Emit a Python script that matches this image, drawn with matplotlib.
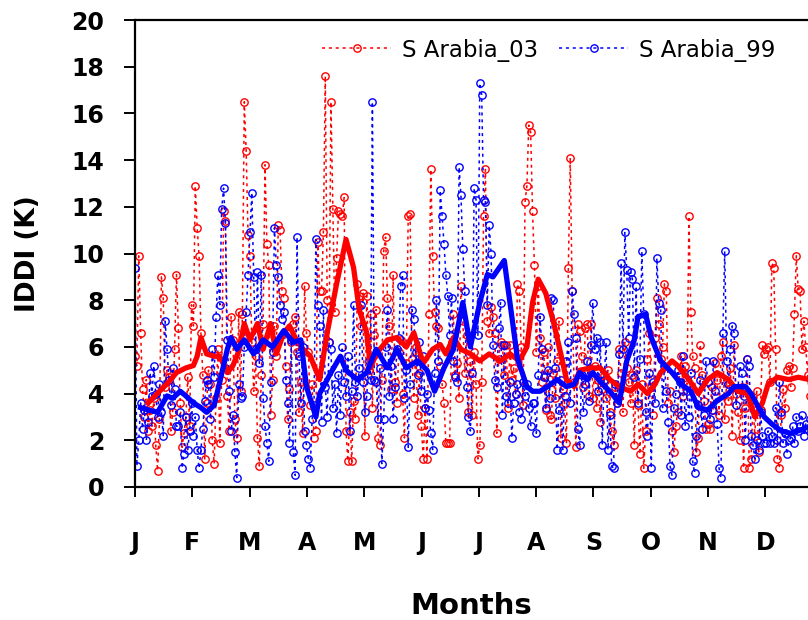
import numpy as np
import matplotlib
matplotlib.use("Agg")
import matplotlib.pyplot as plt

# Daily IDDI values (K), one row per month, Jan..Dec
iddi_03 = [
    5.6, 5.2, 9.9, 6.6, 4.2, 3.0, 4.6, 2.4, 3.3, 2.6, 3.8, 1.8, 0.7, 2.9, 9.0, 8.1, 4.3, 5.0, 4.7, 2.4, 3.2, 5.9, 9.1, 6.8, 3.6, 1.7, 2.3, 3.0, 4.7, 2.6, 7.8,
    6.9, 12.9, 11.1, 9.9, 6.6, 4.8, 1.2, 3.6, 5.0, 4.4, 2.0, 1.0, 3.8, 5.9, 1.9, 4.6, 11.8, 11.4, 3.9, 2.4, 7.3, 6.3, 2.9, 2.1, 7.5, 4.1, 7.4, 16.5,
    14.4, 10.8, 9.9, 6.2, 4.1, 5.6, 2.1, 0.9, 4.8, 7.0, 13.8, 10.4, 9.5, 3.1, 4.6, 6.9, 5.6, 11.2, 11.0, 8.4, 8.1, 5.2, 2.9, 4.2, 6.2, 7.0, 7.3, 5.8, 3.2, 4.5, 2.3,
    8.6, 6.6, 5.8, 3.5, 4.4, 2.1, 2.4, 10.5, 8.4, 8.4, 10.9, 17.6, 8.0, 6.2, 16.5, 11.9, 7.5, 9.8, 11.8, 11.7, 11.6, 12.4, 2.4, 1.1, 3.2, 1.1, 3.7, 2.9, 8.7, 8.2,
    6.9, 8.3, 2.2, 8.2, 5.0, 7.4, 3.4, 6.5, 7.6, 2.1, 1.8, 4.6, 10.1, 10.7, 8.1, 6.9, 4.2, 9.1, 4.5, 3.6, 5.8, 6.3, 4.0, 2.1, 5.3, 11.6, 11.7, 5.5, 3.8, 6.0, 3.1,
    4.9, 2.6, 1.2, 3.4, 1.2, 7.4, 13.6, 9.9, 7.5, 6.9, 6.8, 5.2, 4.4, 3.6, 1.9, 1.9, 1.9, 6.2, 7.4, 4.8, 5.3, 3.8, 8.6, 7.1, 4.9, 6.5, 3.2, 5.4, 3.1, 5.8,
    4.4, 1.2, 1.8, 4.5, 11.6, 13.6, 7.1, 6.6, 7.7, 7.3, 6.6, 2.3, 5.5, 6.2, 6.1, 4.8, 6.1, 3.4, 6.1, 4.6, 5.1, 4.0, 8.7, 8.4, 6.0, 3.5, 12.2, 12.9, 15.5, 15.2, 11.8,
    9.5, 5.8, 8.6, 6.4, 4.5, 5.8, 3.3, 6.0, 3.1, 2.9, 4.9, 3.8, 5.4, 7.1, 2.1, 4.2, 3.6, 1.9, 9.4, 14.1, 8.4, 4.5, 1.7, 7.0, 6.7, 5.6, 4.3, 6.8, 7.0, 3.9, 7.0,
    3.8, 5.2, 3.4, 4.6, 2.8, 4.2, 4.8, 3.8, 5.0, 3.2, 2.4, 1.8, 4.3, 3.6, 5.9, 4.9, 3.2, 6.2, 5.1, 4.5, 3.6, 4.8, 1.8, 5.0, 3.5, 1.4, 4.4, 0.8, 2.4, 5.5,
    6.6, 4.3, 3.1, 6.4, 8.1, 7.0, 5.5, 6.0, 8.7, 8.4, 3.6, 4.1, 2.4, 1.5, 2.6, 3.2, 4.8, 5.6, 3.9, 5.2, 4.4, 11.6, 7.5, 5.6, 5.1, 1.5, 2.1, 6.1, 4.8, 3.7, 2.5,
    2.7, 2.5, 4.3, 3.3, 5.3, 4.6, 3.1, 5.6, 6.2, 2.9, 4.5, 3.7, 5.1, 2.2, 6.1, 4.0, 3.2, 2.0, 4.3, 0.8, 3.4, 5.5, 0.8, 1.2, 3.6, 2.2, 4.1, 1.5, 3.3, 6.1,
    5.7, 5.9, 6.0, 4.5, 9.6, 9.4, 5.9, 1.2, 0.8, 3.1, 4.2, 3.4, 5.0, 5.2, 4.3, 5.1, 7.4, 9.9, 8.5, 8.4, 5.9, 7.1, 6.0, 4.8, 3.9, 5.3, 4.6, 4.1, 5.0, 4.4, 4.7,
]

iddi_99 = [
    9.4, 0.9, 2.0, 3.6, 2.5, 3.3, 2.0, 2.8, 4.9, 3.9, 5.2, 4.0, 3.0, 4.4, 3.2, 2.2, 7.1, 5.9, 4.6, 3.5, 5.1, 4.2, 2.6, 2.6, 3.2, 0.8, 1.4, 3.0, 1.6, 2.4, 3.6,
    2.2, 3.0, 1.6, 0.8, 1.6, 2.5, 3.7, 4.6, 4.4, 2.9, 5.9, 4.7, 7.3, 9.1, 7.8, 11.9, 12.8, 11.3, 6.3, 4.1, 2.4, 3.1, 1.5, 0.4, 4.4, 3.8, 3.9, 6.0,
    7.5, 9.1, 10.9, 12.6, 9.0, 5.9, 9.2, 5.3, 9.1, 3.8, 2.6, 1.9, 1.1, 4.5, 5.8, 11.1, 9.5, 9.0, 7.8, 7.2, 7.5, 4.6, 3.6, 1.9, 6.3, 1.5, 0.5, 10.7, 5.6, 3.6, 6.0,
    2.4, 1.8, 1.2, 0.8, 2.9, 3.5, 10.6, 7.8, 6.9, 2.8, 7.6, 4.3, 3.0, 6.2, 5.9, 3.4, 4.4, 2.3, 4.8, 3.1, 6.0, 4.5, 3.9, 5.6, 2.4, 4.1, 7.8, 4.5, 3.9, 5.1,
    7.8, 4.5, 3.2, 3.9, 5.4, 4.6, 16.5, 4.6, 4.5, 2.9, 5.1, 1.0, 2.9, 6.0, 7.6, 3.9, 5.2, 2.9, 4.3, 5.9, 6.4, 8.6, 9.1, 3.8, 5.0, 1.7, 4.4, 7.6, 7.2, 5.8, 4.8,
    6.2, 4.1, 5.6, 3.4, 4.0, 3.3, 2.3, 1.6, 4.9, 8.0, 5.4, 12.7, 11.6, 10.4, 9.1, 8.2, 6.5, 8.1, 5.4, 4.7, 4.5, 13.7, 12.5, 10.2, 8.4, 4.3, 3.0, 2.4, 4.9, 12.8,
    12.3, 6.5, 17.3, 16.8, 12.3, 12.2, 7.8, 11.2, 10.0, 6.1, 4.6, 4.3, 6.8, 7.9, 3.1, 6.1, 3.9, 3.6, 4.5, 2.1, 3.6, 4.0, 4.4, 3.2, 2.9, 4.5, 3.9, 4.4, 3.4, 2.6, 3.6,
    3.6, 2.3, 4.8, 7.3, 5.9, 4.7, 3.4, 5.0, 3.8, 8.1, 8.0, 5.1, 1.6, 3.3, 4.6, 1.6, 3.9, 5.4, 6.2, 3.6, 8.4, 7.4, 6.4, 2.5, 1.8, 4.8, 3.2, 4.4, 5.4, 3.7, 6.1,
    7.9, 5.9, 6.4, 4.1, 6.2, 1.8, 4.6, 6.2, 1.6, 3.1, 0.9, 0.8, 4.4, 3.6, 5.7, 9.6, 5.9, 10.9, 9.3, 6.4, 9.2, 8.9, 4.7, 8.6, 3.6, 5.5, 10.1, 7.4, 3.2, 2.2,
    4.9, 0.8, 4.5, 3.6, 9.8, 7.9, 7.6, 3.4, 5.2, 4.1, 2.8, 0.9, 0.5, 3.4, 4.0, 5.0, 4.5, 3.1, 5.6, 2.6, 4.1, 3.0, 4.9, 1.1, 0.6, 2.2, 3.5, 4.6, 2.5, 3.1, 5.4,
    4.5, 2.9, 3.3, 5.4, 4.1, 2.7, 0.8, 0.4, 6.6, 10.1, 5.4, 4.4, 5.9, 6.9, 6.6, 3.5, 4.2, 5.2, 4.9, 3.9, 2.0, 5.5, 5.2, 2.2, 1.8, 1.2, 2.0, 1.6, 3.2, 2.2,
    1.9, 1.9, 2.4, 1.9, 2.2, 1.9, 3.4, 2.0, 4.5, 3.2, 1.9, 2.3, 1.4, 2.0, 2.1, 2.6, 1.9, 3.0, 2.4, 2.6, 3.1, 2.2, 2.7, 2.5, 2.9, 2.4, 2.6, 2.2, 2.8, 2.5, 2.4,
]

# Running-mean curves (day of year, value)
smooth_03_day = [7, 13, 18, 22, 27, 31, 33, 35, 38, 42, 45, 49, 52, 55, 58, 61, 65, 68, 72, 75,
                 79, 82, 85, 88, 93, 98, 102, 107, 112, 116, 119, 123, 125, 128, 134, 139, 144, 148, 153, 158,
                 162, 165, 169, 173, 178, 183, 188, 194, 199, 204, 208, 211, 214, 218, 222, 226, 229, 233, 236, 242,
                 247, 252, 257, 263, 267, 272, 276, 279, 285, 288, 294, 299, 304, 309, 315, 320, 325, 329, 333, 336,
                 341, 347, 352, 358]
smooth_03_val = [3.6, 4.1, 4.5, 4.9, 5.1, 5.2, 5.6, 6.4, 5.7, 5.6, 5.6, 4.9, 5.2, 5.8, 7.0, 6.3, 7.0, 5.9, 7.0, 5.7,
                 6.6, 6.9, 6.4, 6.0, 5.6, 4.6, 6.6, 8.7, 10.6, 9.4, 7.6, 6.6, 5.1, 5.7, 6.3, 6.4, 6.0, 6.6, 5.3, 5.9,
                 6.1, 5.7, 6.4, 5.9, 5.7, 5.4, 5.7, 5.4, 5.7, 5.4, 6.0, 7.9, 8.9, 8.3, 7.1, 5.7, 4.6, 4.3, 5.0, 5.1,
                 5.1, 4.6, 4.3, 4.1, 4.4, 4.0, 4.4, 4.9, 5.4, 5.2, 4.6, 4.0, 4.6, 4.9, 4.6, 4.1, 4.0, 3.0, 3.6, 4.4,
                 4.7, 4.6, 4.7, 4.6]

smooth_99_day = [3, 7, 12, 17, 20, 24, 27, 31, 35, 38, 42, 45, 49, 51, 54, 58, 63, 68, 73, 79,
                 84, 88, 91, 96, 98, 104, 109, 112, 118, 123, 128, 134, 139, 144, 150, 155, 159, 164, 169, 174,
                 178, 183, 187, 190, 196, 199, 203, 208, 211, 215, 219, 224, 229, 233, 236, 240, 243, 247, 252, 257,
                 261, 265, 267, 271, 274, 279, 285, 290, 295, 299, 304, 309, 315, 318, 324, 327, 331, 334, 338, 343,
                 348, 352, 358]
smooth_99_val = [3.4, 3.3, 3.2, 3.9, 3.8, 4.1, 3.9, 3.6, 3.4, 3.2, 3.5, 4.5, 5.9, 6.4, 5.9, 6.3, 5.7, 6.3, 6.0, 6.7,
                 6.2, 6.3, 4.3, 3.0, 4.0, 4.9, 5.6, 5.0, 4.6, 4.9, 5.9, 5.1, 5.9, 5.1, 5.4, 5.0, 4.1, 5.1, 5.9, 7.9,
                 6.0, 7.9, 9.1, 9.0, 9.7, 7.9, 5.5, 4.3, 4.1, 4.1, 4.3, 4.6, 4.3, 4.4, 4.9, 4.6, 4.9, 4.5, 4.1, 3.6,
                 5.4, 6.3, 7.3, 7.4, 6.4, 5.4, 4.9, 4.4, 4.1, 3.4, 3.3, 3.7, 4.0, 4.3, 4.3, 4.0, 3.4, 3.0, 2.7, 2.4,
                 2.3, 2.4, 2.6]

month_labels = ["J", "F", "M", "A", "M", "J", "J", "A", "S", "O", "N", "D"]

RED = "#ff0000"
BLUE = "#0000ff"

days = np.arange(len(iddi_03))

fig = plt.figure(figsize=(8.08, 6.2), dpi=100)
ax = fig.add_axes([135 / 808, 1 - 487 / 620, 1 - 135 / 808, (487 - 20) / 620])

dot = (0, (2, 2.5))
ax.plot(days, iddi_03, color=RED, lw=1.1, linestyle=dot, marker="o", ms=5.3,
        mfc="none", mec=RED, mew=1.0, label="S Arabia_03", zorder=2)
ax.plot(days, iddi_99, color=BLUE, lw=1.1, linestyle=dot, marker="o", ms=5.3,
        mfc="none", mec=BLUE, mew=1.0, label="S Arabia_99", zorder=2)
ax.plot(smooth_03_day, smooth_03_val, color=RED, lw=3.8, zorder=4)
ax.plot(smooth_99_day, smooth_99_val, color=BLUE, lw=3.8, zorder=5)

ax.set_xlim(0, 357.2)
ax.set_ylim(0, 20)
ax.set_xticks(np.arange(12) * 365 / 12)
ax.set_xticklabels(month_labels)
ax.set_yticks(np.arange(0, 21, 2))

for s in ("left", "bottom", "top"):
    ax.spines[s].set_linewidth(1.6)
ax.spines["right"].set_visible(False)

ax.tick_params(axis="x", length=7, width=1.4, pad=25, labelsize=17)
ax.tick_params(axis="y", length=8, width=1.4, pad=14, labelsize=17)
for lab in ax.get_xticklabels() + ax.get_yticklabels():
    lab.set_fontweight("bold")

ax.set_xlabel("Months", fontsize=21, fontweight="bold", labelpad=26)
ax.set_ylabel("IDDI (K)", fontsize=19, fontweight="bold", labelpad=22)

ax.legend(loc="center", bbox_to_anchor=(549 / 808, 1 - 50 / 620),
          bbox_transform=fig.transFigure, ncol=2, frameon=False, fontsize=16.5,
          handlelength=3.0, handletextpad=0.5, columnspacing=0.9, numpoints=1)

fig.savefig("out.png", dpi=100)
